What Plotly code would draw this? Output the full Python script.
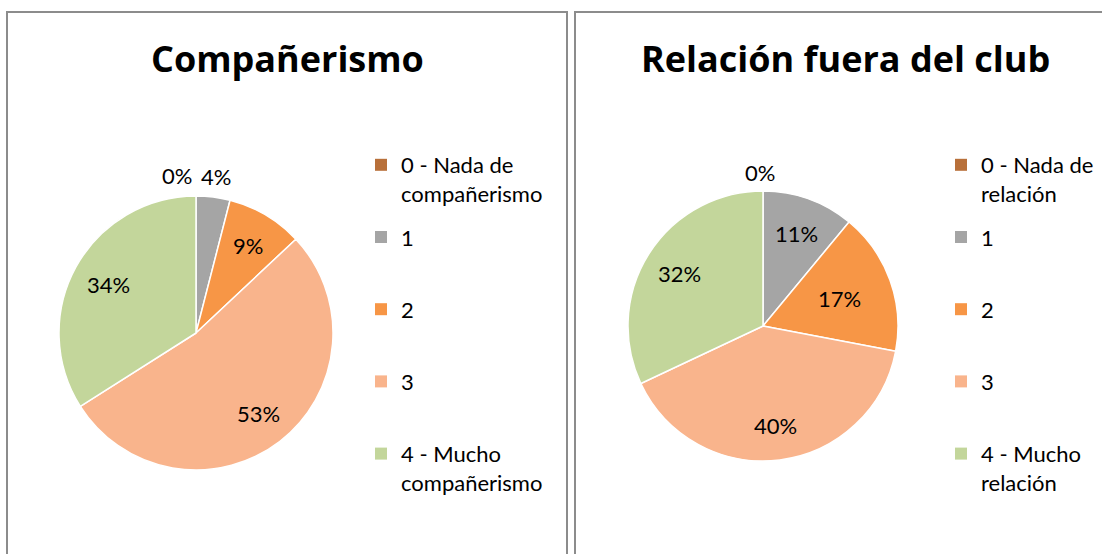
import math
import plotly.graph_objects as go

W, H = 1102, 554

# ---- data ----
titles = ["Compañerismo", "Relación fuera del club"]
categories_left = ["0 - Nada de<br>compañerismo", "1", "2", "3", "4 - Mucho<br>compañerismo"]
categories_right = ["0 - Nada de<br>relación", "1", "2", "3", "4 - Mucho<br>relación"]
values_left = [0, 4, 9, 53, 34]
values_right = [0, 11, 17, 40, 32]
colors = ["#B8703A", "#A5A5A5", "#F79646", "#F9B48C", "#C3D69B"]

# ---- style / layout (label placement as fraction of radius, angular nudge in degrees) ----
label_r_left = [1.16, 1.15, 0.74, 0.74, 0.73]
label_r_right = [1.14, 0.73, 0.60, 0.74, 0.73]
label_nudge_left = [-7, 0, 0, 0, 0]
label_nudge_right = [-1, 0, 0, 0, 0]

FONT = "Lato"
TXT = 22


def px(x):
    return x / W


def py(y):
    return 1 - y / H


fig = go.Figure()
annotations = []

pies = [
    (values_left, categories_left, (196, 333), 137, label_r_left, label_nudge_left),
    (values_right, categories_right, (763, 326), 135, label_r_right, label_nudge_right),
]
for vals, cats, (cx, cy), R, rfr, nudge in pies:
    fig.add_trace(go.Pie(
        values=vals,
        labels=[c.replace("<br>", " ") for c in cats],
        sort=False,
        direction="clockwise",
        rotation=0,
        marker=dict(colors=colors, line=dict(color="white", width=1.5)),
        textinfo="none",
        domain=dict(x=[px(cx - R), px(cx + R)], y=[py(cy + R), py(cy - R)]),
        showlegend=False,
        hoverinfo="label+percent",
    ))
    total = sum(vals)
    cum = 0
    for v, rf, dn in zip(vals, rfr, nudge):
        mid = (cum + v / 2) / total * 2 * math.pi + math.radians(dn)
        cum += v
        x = cx + rf * R * math.sin(mid)
        y = cy - rf * R * math.cos(mid)
        annotations.append(dict(
            text=f"{round(v / total * 100)}%", x=px(x), y=py(y), xref="paper", yref="paper",
            xanchor="center", yanchor="middle", showarrow=False,
            font=dict(family=FONT, size=TXT, color="black"),
        ))

# legends built from the same categories / colors
for legname, cats in (("legend", categories_left), ("legend2", categories_right)):
    for i, (c, col) in enumerate(zip(cats, colors)):
        name = c if "<br>" in c else c + "<br>\u00a0"
        fig.add_trace(go.Scatter(
            x=[None], y=[None], mode="markers",
            marker=dict(symbol="square", size=10, color=col),
            name=name, legend=legname, legendgroup=f"{legname}{i}",
            showlegend=True, hoverinfo="skip",
        ))

leg_common = dict(
    xanchor="left", yanchor="top",
    font=dict(family=FONT, size=TXT, color="black"),
    valign="top", bgcolor="rgba(0,0,0,0)", borderwidth=0,
    traceorder="grouped", tracegroupgap=12, itemsizing="constant",
)

for t, xc in zip(titles, (287, 845)):
    annotations.append(dict(
        text=f"<b>{t}</b>", x=px(xc), y=py(58), xref="paper", yref="paper",
        xanchor="center", yanchor="middle", showarrow=False,
        font=dict(family="Open Sans", size=36, color="black"),
    ))

fig.update_layout(
    width=W, height=H,
    margin=dict(l=0, r=0, t=0, b=0),
    paper_bgcolor="white", plot_bgcolor="white",
    xaxis=dict(visible=False), yaxis=dict(visible=False),
    legend=dict(x=px(361), y=py(144), **leg_common),
    legend2=dict(x=px(941), y=py(144), **leg_common),
    shapes=[
        dict(type="rect", xref="paper", yref="paper", x0=px(7), x1=px(567), y0=-0.1, y1=py(12),
             line=dict(color="#8C8C8C", width=2), layer="above"),
        dict(type="rect", xref="paper", yref="paper", x0=px(575), x1=1.1, y0=-0.1, y1=py(12),
             line=dict(color="#8C8C8C", width=2), layer="above"),
    ],
    annotations=annotations,
)

fig.write_html("out.html", config={"displayModeBar": False},
               post_script="document.body.style.margin='0';")
